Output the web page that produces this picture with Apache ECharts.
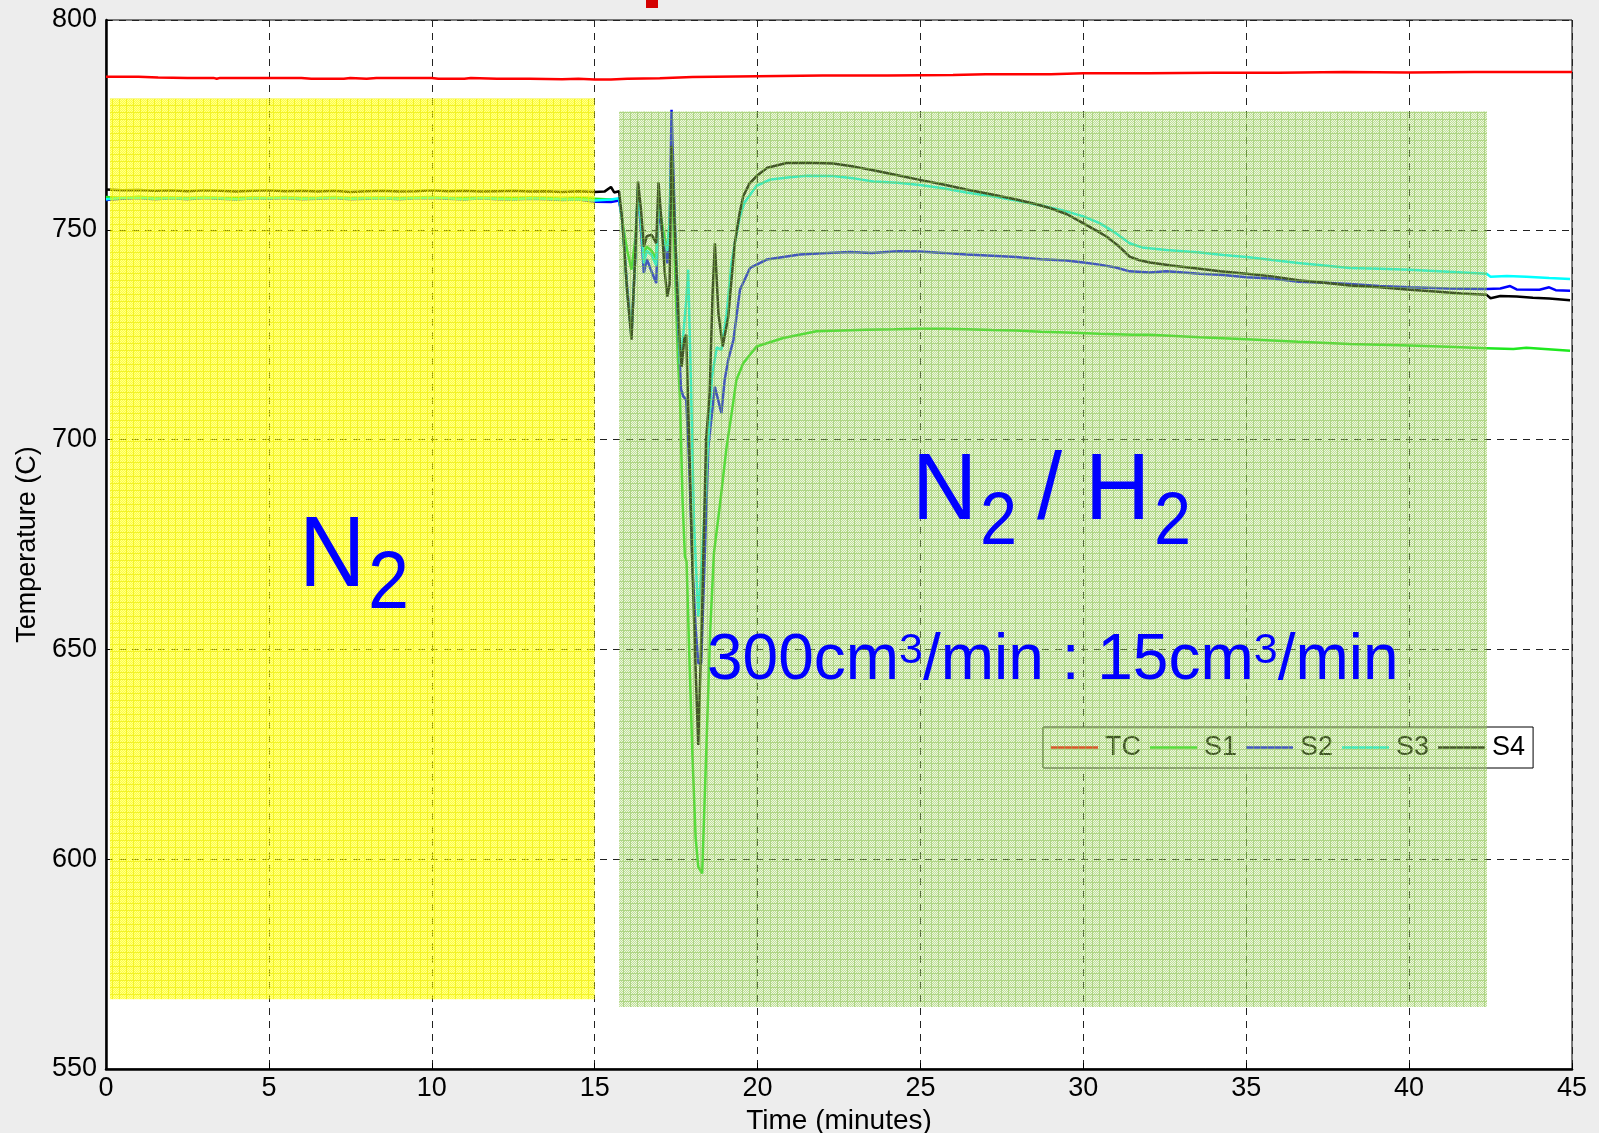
<!DOCTYPE html>
<html><head><meta charset="utf-8">
<script src="https://cdn.jsdelivr.net/npm/echarts@6/dist/echarts.min.js"></script>
<style>html,body{margin:0;padding:0;background:#ededed}#c{width:1599px;height:1133px}</style>
</head><body><div id="c"></div>
<script>
// ---------------- data (time in minutes, temperature in C) ----------------
const X_MIN = 0, X_MAX = 45, X_STEP = 5;
const Y_MIN = 550, Y_MAX = 800, Y_STEP = 50;
const SERIES_NAMES = ['TC', 'S1', 'S2', 'S3', 'S4'];
const SERIES_COLORS = ['#ff0000', '#1fe81f', '#0000ff', '#00ffff', '#000000'];

const TC = [[0,786.5],[1,786.5],[1.6,786.3],[2.5,786.2],[3.3,786.2],[3.4,786.0],[3.5,786.2],[5,786.2],[6,786.2],[6.3,786.0],
 [7.3,786.0],[7.5,786.2],[8,786.0],[8.3,786.2],[10,786.2],[10.2,786.0],[11,786.0],[11.2,786.2],[12,786.0],[13,786.0],
 [14,785.9],[14.5,786.0],[15,785.8],[15.5,785.8],[16,786.0],[17,786.1],[18,786.4],[20,786.6],[22,786.8],[24,786.8],
 [26,786.9],[27,787.1],[29,787.1],[30,787.3],[32,787.3],[34,787.4],[36,787.4],[38,787.6],[40,787.5],[42,787.6],[44,787.6],[45,787.6]];

const S1 = [[0,757.8],[0.5,757.6],[1,757.9],[1.5,757.6],[2,757.7],[2.5,757.5],[3,757.8],[3.5,757.6],[4,757.5],[4.5,757.7],
 [5,757.6],[5.5,757.8],[6,757.5],[6.5,757.6],[7,757.8],[7.5,757.5],[8,757.6],[8.5,757.7],[9,757.5],[9.5,757.7],[10,757.8],
 [10.5,757.6],[11,757.5],[11.5,757.7],[12,757.6],[12.5,757.5],[13,757.7],[13.5,757.6],[14,757.4],[14.5,757.6],[15,757.4],
 [15.5,757.2],[15.75,757.3],[15.85,752],[16.0,745],[16.13,740.5],[16.25,748],[16.33,760],[16.42,752],[16.51,744],[16.6,746],
 [16.75,745],[16.89,743],[16.96,757],[17.1,750],[17.23,745],[17.3,752],[17.36,765],[17.45,745],[17.55,720],[17.62,709.5],
 [17.7,685],[17.77,672.1],[17.82,671],[17.9,650],[18.0,625],[18.1,605],[18.18,598.2],[18.3,596.6],[18.43,626.8],[18.55,655],
 [18.66,672.9],[18.85,684.8],[19.05,698.3],[19.2,706],[19.35,714.2],[19.56,718.2],[19.97,722.2],[20.79,724.2],[21.81,725.8],
 [23.34,726.2],[24.2,726.3],[24.98,726.4],[25.7,726.4],[26.41,726.3],[27.2,726.1],[27.94,726.0],[28.7,725.7],[29.48,725.5],
 [30.5,725.2],[31.52,725.0],[32.04,725.0],[33.58,724.4],[35.01,723.9],[36.6,723.3],[38.18,722.8],[40.02,722.4],[41.2,722.1],
 [42.38,721.8],[43.2,721.6],[43.6,721.9],[44.94,721.2]];

const S2 = [[0,757.1],[0.5,757.4],[1,757.6],[1.5,757.3],[2,757.5],[2.5,757.3],[3,757.6],[3.5,757.4],[4,757.2],[4.5,757.5],
 [5,757.4],[5.5,757.6],[6,757.3],[6.5,757.4],[7,757.6],[7.5,757.3],[8,757.4],[8.5,757.5],[9,757.3],[9.5,757.5],[10,757.6],
 [10.5,757.4],[11,757.2],[11.5,757.5],[12,757.3],[12.5,757.2],[13,757.4],[13.5,757.3],[14,757.1],[14.5,757.2],[15,756.7],
 [15.5,756.6],[15.75,757.0],[15.85,752],[16.0,736],[16.13,725],[16.25,744],[16.33,760],[16.42,750],[16.51,739.7],[16.6,743],
 [16.75,740],[16.89,737.3],[16.96,755],[17.1,748],[17.23,742],[17.3,750],[17.36,778.6],[17.45,755],[17.55,730],[17.65,712],
 [17.72,710.3],[17.81,709.5],[17.9,695],[18.0,670],[18.1,655],[18.18,646.7],[18.27,646.7],[18.49,698.3],[18.69,712.6],
 [18.89,706.3],[18.99,714.2],[19.1,719],[19.26,723.8],[19.46,735.7],[19.77,740.9],[20.28,742.9],[21.3,744.1],[22.0,744.4],
 [22.84,744.7],[23.5,744.5],[24.3,744.9],[24.98,744.8],[25.7,744.5],[26.41,744.1],[27.2,743.8],[27.94,743.5],[28.7,743.0],
 [29.48,742.7],[30.0,742.2],[30.5,741.7],[31.0,741.0],[31.42,740.1],[32.04,739.8],[32.55,740.1],[33.58,739.5],[34.3,739.2],
 [35.01,738.7],[35.8,738.4],[36.6,737.6],[37.4,737.4],[38.18,737.1],[39.1,736.6],[40.02,736.3],[41.2,736.0],[42.38,735.9],
 [42.8,736.0],[43.1,736.6],[43.3,735.8],[44.0,735.7],[44.3,736.3],[44.5,735.6],[44.94,735.5]];

const S3 = [[0,757.3],[0.5,757.6],[1,757.7],[1.5,757.4],[2,757.6],[2.5,757.4],[3,757.7],[3.5,757.5],[4,757.3],[4.5,757.6],
 [5,757.5],[5.5,757.7],[6,757.4],[6.5,757.5],[7,757.7],[7.5,757.4],[8,757.5],[8.5,757.6],[9,757.4],[9.5,757.6],[10,757.7],
 [10.5,757.5],[11,757.3],[11.5,757.6],[12,757.4],[12.5,757.3],[13,757.5],[13.5,757.4],[14,757.2],[14.5,757.3],[15,757.0],
 [15.5,757.2],[15.75,757.5],[15.85,752],[16.0,735],[16.13,724.5],[16.25,745],[16.33,760],[16.42,752],[16.51,742],[16.6,745],
 [16.75,744],[16.89,741.5],[16.96,758],[17.1,748],[17.23,745],[17.3,752],[17.36,769],[17.45,752],[17.55,735],[17.62,718],
 [17.72,725],[17.81,733],[17.87,740.5],[17.95,715],[18.05,680],[18.18,657.8],[18.3,672],[18.45,695],[18.6,715],[18.75,722],
 [18.89,721.4],[19.05,730],[19.2,742],[19.3,746.8],[19.46,753.2],[19.6,756.5],[19.97,760.5],[20.4,762],[21.0,762.5],
 [21.5,762.9],[22.32,762.8],[23,762.2],[23.55,761.5],[24.3,761.2],[24.98,760.7],[25.7,759.9],[26.41,758.9],[27.2,758.0],
 [27.94,757.0],[28.7,755.8],[29.48,754.4],[30.0,753.2],[30.5,751.6],[31.0,749.2],[31.42,746.8],[31.8,745.8],[32.55,745.2],
 [33.58,744.6],[34.3,744.0],[35.01,743.5],[35.8,742.8],[36.6,742.1],[37.4,741.5],[38.18,740.9],[39.1,740.7],[40.02,740.5],
 [41.2,740.0],[42.38,739.5],[42.5,738.8],[43.0,739.0],[43.6,738.8],[44.3,738.5],[44.94,738.3]];

const S4 = [[0,759.6],[0.5,759.4],[1,759.5],[1.5,759.3],[2,759.4],[2.5,759.2],[3,759.4],[3.5,759.3],[4,759.1],[4.5,759.3],
 [5,759.4],[5.5,759.2],[6,759.3],[6.5,759.1],[7,759.3],[7.5,759.0],[8,759.2],[8.5,759.3],[9,759.1],[9.5,759.2],[10,759.4],
 [10.5,759.2],[11,759.3],[11.5,759.1],[12,759.2],[12.5,759.3],[13,759.1],[13.5,759.2],[14,759.0],[14.5,759.2],[15,759.0],
 [15.3,759.1],[15.5,760.2],[15.6,758.9],[15.75,759.2],[15.85,752],[16.0,735],[16.13,723.8],[16.25,745],[16.33,761.5],
 [16.42,755],[16.51,746],[16.6,748.5],[16.75,748.8],[16.89,746.8],[16.96,761.3],[17.05,752],[17.15,740],[17.23,734.1],
 [17.3,737],[17.36,770],[17.45,752],[17.54,735],[17.62,722],[17.67,717.4],[17.75,724],[17.81,725],[17.9,700],[18.0,670],
 [18.1,645],[18.18,627.2],[18.3,660],[18.42,700],[18.53,711],[18.62,735],[18.69,746.8],[18.8,730],[18.93,722.2],[19.1,729.3],
 [19.3,746.8],[19.45,754],[19.56,758],[19.75,761],[19.97,762.8],[20.3,764.8],[20.89,765.9],[21.5,766.0],[22.32,765.8],
 [23,765.0],[23.55,764.2],[24.3,763.0],[24.98,761.9],[25.7,760.8],[26.41,759.6],[27.2,758.4],[27.94,757.2],[28.5,756.2],
 [28.97,755.2],[29.5,753.7],[29.99,751.6],[30.4,749.8],[30.71,748.4],[31.1,746],[31.42,743.6],[31.7,742.8],[32.04,742.2],
 [32.7,741.5],[33.37,740.9],[34.2,740.1],[35.01,739.5],[35.8,738.9],[36.6,738.0],[37.4,737.4],[38.18,736.7],[39.1,736.3],
 [40.02,735.7],[40.8,735.3],[41.6,734.8],[42.38,734.5],[42.5,733.7],[42.8,734.2],[43.3,734.1],[43.8,733.8],[44.3,733.6],[44.94,733.2]];

// shaded gas-phase zones: [t start, T top, t end, T bottom]
const ZONE_N2 = [0.12, 781.3, 15.0, 566.6];
const ZONE_N2H2 = [15.75, 778.2, 42.39, 564.8];

// ---------------- chart ----------------
const FONT = '"Liberation Sans", Arial, sans-serif';
function makePattern(base, light, grid) {
  const c = document.createElement('canvas'); c.width = 7; c.height = 7;
  const g = c.getContext('2d');
  for (let y = 0; y < 7; y++) for (let x = 0; x < 7; x++) {
    g.fillStyle = (x === 0 || y === 0) ? grid : (((x + y) % 2 === 0) ? base : light);
    g.fillRect(x, y, 1, 1);
  }
  return { image: c, repeat: 'repeat' };
}
const PATTERNS = [
  makePattern('rgba(255,255,0,0.75)', 'rgba(255,255,0,0.45)', 'rgba(240,240,0,0.85)'),
  makePattern('rgba(140,196,65,0.55)', 'rgba(190,225,150,0.3)', 'rgba(140,195,80,0.7)')
];

const seriesData = [TC, S1, S2, S3, S4];
const chart = echarts.init(document.getElementById('c'), null, { renderer: 'canvas' });

const lineSeries = SERIES_NAMES.map((n, i) => ({
  name: n, type: 'line', data: seriesData[i], showSymbol: false, symbol: 'none',
  lineStyle: { color: SERIES_COLORS[i], width: 2.5 }, itemStyle: { color: SERIES_COLORS[i] },
  z: 2, animation: false
}));

const zoneSeries = {
  type: 'custom', z: 10, silent: true, animation: false,
  data: [ZONE_N2.concat([0]), ZONE_N2H2.concat([1])],
  encode: { x: [0, 2], y: [1, 3] },
  renderItem(params, api) {
    const p0 = api.coord([api.value(0), api.value(1)]);
    const p1 = api.coord([api.value(2), api.value(3)]);
    return { type: 'rect', shape: { x: p0[0], y: p0[1], width: p1[0] - p0[0], height: p1[1] - p0[1] },
      style: { fill: PATTERNS[api.value(4)] } };
  }
};

// annotation texts
const BLUE = '#0000ff';
function txt(x, y, text, size, sx) {
  return { type: 'text', x: x, y: y, scaleX: sx || 1, z: 100,
    style: { text: text, font: size + 'px ' + FONT, fill: BLUE, verticalAlign: 'middle', align: 'left' } };
}
const mctx = document.createElement('canvas').getContext('2d');
function flow(x0, yMid, pieces) {
  const out = []; let x = x0;
  pieces.forEach(p => {
    mctx.font = p.size + 'px ' + FONT;
    out.push(txt(x, yMid + (p.dy || 0), p.t, p.size));
    x += mctx.measureText(p.t).width;
  });
  return out;
}
const annotations = [
  txt(299, 558, 'N', 100, 0.92), txt(368, 585, '2', 82, 0.9),
  txt(912, 493, 'N', 95, 0.95), txt(980, 524, '2', 74, 0.9), txt(1037, 493, '/', 95, 0.95),
  txt(1085, 493, 'H', 95, 0.95), txt(1154, 524, '2', 74, 0.9)
].concat(flow(707, 661, [
  { t: '300cm', size: 64 }, { t: '3', size: 43, dy: -10 }, { t: '/min : 15cm', size: 64 },
  { t: '3', size: 43, dy: -10 }, { t: '/min', size: 64 }
]));
annotations.push({ type: 'rect', shape: { x: 646, y: 0, width: 12, height: 8 }, style: { fill: '#d40000' }, z: 100 });

const axisCommon = {
  type: 'value',
  axisLine: { show: true, onZero: false, lineStyle: { color: '#000', width: 2.5 } },
  axisTick: { show: true, inside: true, length: 6, lineStyle: { color: '#000', width: 1 } },
  axisLabel: { color: '#000', fontSize: 27, fontFamily: FONT },
  splitLine: { show: true, lineStyle: { type: [7, 6], color: '#222', width: 1 } },
  nameLocation: 'middle',
  nameTextStyle: { color: '#000', fontFamily: FONT }
};

chart.setOption({
  animation: false,
  backgroundColor: '#ededed',
  grid: { left: 106, right: 27, top: 20, bottom: 64, show: true, backgroundColor: '#fff',
    borderColor: '#000', borderWidth: 1, containLabel: false, outerBoundsMode: 'none' },
  xAxis: Object.assign({}, axisCommon, {
    min: X_MIN, max: X_MAX, interval: X_STEP, name: 'Time (minutes)', nameGap: 36,
    axisLabel: Object.assign({}, axisCommon.axisLabel, { margin: 6 }),
    nameTextStyle: { color: '#000', fontFamily: FONT, fontSize: 28 }
  }),
  yAxis: Object.assign({}, axisCommon, {
    min: Y_MIN, max: Y_MAX, interval: Y_STEP, name: 'Temperature (C)', nameGap: 64,
    axisLabel: Object.assign({}, axisCommon.axisLabel, { margin: 9 }),
    nameTextStyle: { color: '#000', fontFamily: FONT, fontSize: 27 }
  }),
  legend: {
    data: SERIES_NAMES, left: 1043, top: 727, orient: 'horizontal', icon: 'rect', itemWidth: 47, itemHeight: 2.5, itemGap: 9,
    padding: [7, 8, 7, 8], backgroundColor: '#fff', borderColor: '#000', borderWidth: 1, borderRadius: 0,
    textStyle: { fontSize: 27, fontFamily: FONT, color: '#000', padding: [0, 0, 0, 2] }, z: 4
  },
  graphic: annotations,
  series: lineSeries.concat([zoneSeries])
});
</script></body></html>
